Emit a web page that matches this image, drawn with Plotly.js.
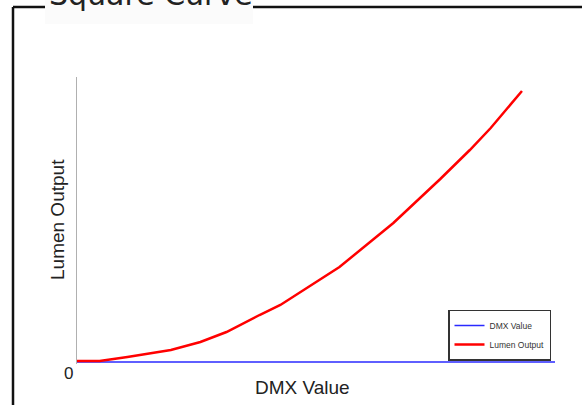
<!DOCTYPE html>
<html><head><meta charset="utf-8">
<script src="https://cdn.plot.ly/plotly-3.0.1.min.js"></script>
<style>html,body{margin:0;padding:0;background:#fff}#chart{width:582px;height:405px}</style>
</head><body><div id="chart"></div>
<script>
// Data
const dmxX = [0, 275];
const dmxY = [0, 0];
const lumenX = [0, 13, 29, 54, 71, 86, 105, 117, 151, 182, 209, 226, 238, 248, 256];
const lumenY = [1, 1, 5, 12, 20, 30, 47, 57, 95, 139, 183, 212, 234, 255, 271];
const seriesNames = ["DMX Value", "Lumen Output"];
const chartTitle = "Square Curve";
const xTitle = "DMX Value";
const yTitle = "Lumen Output";

// plot area pixels: x 77..555, y 77..364
const L = 77, R = 555, T = 77, B = 364;
const px = x => (x - L) / (R - L);
const py = y => (B - y) / (B - T);

const traces = [
  {x: dmxX, y: dmxY, name: seriesNames[0], mode: "lines", line: {color: "#2a2aff", width: 1.5}},
  {x: lumenX, y: lumenY, name: seriesNames[1], mode: "lines", line: {color: "#ff0000", width: 2.5}}
];

const layout = {
  width: 582, height: 405,
  margin: {l: L, r: 582 - R, t: T, b: 405 - B, pad: 0},
  paper_bgcolor: "#fff", plot_bgcolor: "#fff",
  showlegend: true,
  font: {family: "Liberation Sans, Arial, sans-serif", color: "#222"},
  xaxis: {range: [0, 275], showline: false, showgrid: false, zeroline: false, showticklabels: false, ticks: ""},
  yaxis: {range: [-2, 285], showline: true, linecolor: "#b0b0b0", linewidth: 1.2, showgrid: false, zeroline: false,
    showticklabels: false, ticks: ""},
  legend: {x: px(448), y: py(309.5), xanchor: "left", yanchor: "top", bgcolor: "#fff",
    bordercolor: "#333", borderwidth: 1.5, font: {size: 8.5, color: "#333"}, itemwidth: 30},
  shapes: [
    {type: "line", xref: "paper", yref: "paper", x0: px(13), x1: px(13), y0: py(7), y1: py(410), line: {color: "#111", width: 2.5}},
    {type: "line", xref: "paper", yref: "paper", x0: px(13), x1: px(590), y0: py(7), y1: py(7), line: {color: "#111", width: 2.5}},
    {type: "rect", xref: "paper", yref: "paper", x0: px(45), x1: px(253), y0: py(24), y1: py(-5), fillcolor: "#fbfbfb", line: {width: 0}}
  ],
  annotations: [
    {text: chartTitle, xref: "paper", yref: "paper", x: px(47), y: py(14), xanchor: "left", yanchor: "bottom",
      showarrow: false, font: {size: 30, color: "#222", family: "DejaVu Sans, sans-serif"}},
    {text: "0", xref: "paper", yref: "paper", x: px(68), y: py(373), xanchor: "center", yanchor: "middle",
      showarrow: false, font: {size: 17, color: "#222"}},
    {text: xTitle, xref: "paper", yref: "paper", x: px(302), y: py(387), xanchor: "center", yanchor: "middle",
      showarrow: false, font: {size: 19, color: "#222"}},
    {text: yTitle, xref: "paper", yref: "paper", x: px(57), y: py(220), xanchor: "center", yanchor: "middle",
      textangle: -90, showarrow: false, font: {size: 19, color: "#222"}}
  ]
};

Plotly.newPlot("chart", traces, layout, {displayModeBar: false, staticPlot: true});
</script></body></html>
